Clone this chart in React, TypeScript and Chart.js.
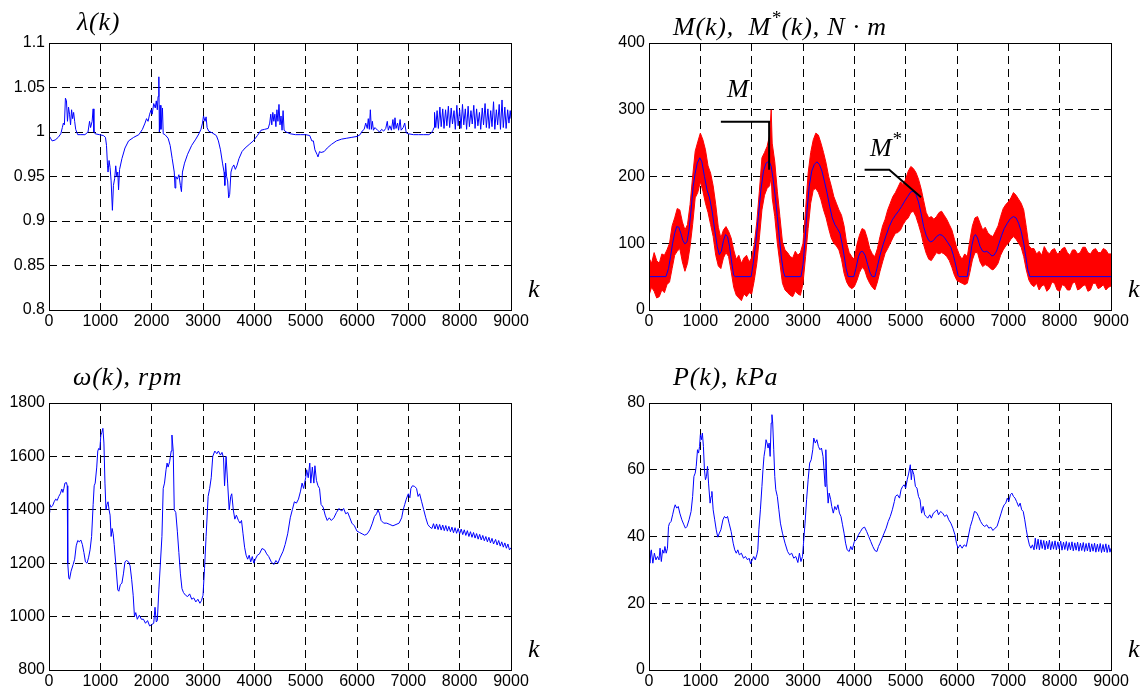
import React, { useEffect, useRef } from 'react';
import { Chart, registerables } from 'chart.js';
Chart.register(...registerables);

// ---------- axis ticks ----------
const kTicks = [0, 1000, 2000, 3000, 4000, 5000, 6000, 7000, 8000, 9000];
const kTickLabels = ['0', '1000', '2000', '3000', '4000', '5000', '6000', '7000', '8000', '9000'];
const lambdaTicks = [0.8, 0.85, 0.9, 0.95, 1, 1.05, 1.1];
const lambdaTickLabels = ['0.8', '0.85', '0.9', '0.95', '1', '1.05', '1.1'];
const momentTicks = [0, 100, 200, 300, 400];
const momentTickLabels = ['0', '100', '200', '300', '400'];
const omegaTicks = [800, 1000, 1200, 1400, 1600, 1800];
const omegaTickLabels = ['800', '1000', '1200', '1400', '1600', '1800'];
const pressureTicks = [0, 20, 40, 60, 80];
const pressureTickLabels = ['0', '20', '40', '60', '80'];

// ---------- λ(k) : [k, value] ----------
const lambdaSeries: [number, number][] = [
  [0, 0.996], [30, 0.993], [60, 0.99], [120, 0.991], [180, 0.994], [230, 0.998], [260, 1.005], [280, 1.01],
  [300, 1.008], [320, 1.038], [340, 1.035], [360, 1.012], [380, 1.028], [400, 1.02], [420, 1.008], [440, 1.025],
  [460, 1.015], [480, 1.022], [500, 1.012], [520, 1.003], [560, 0.997], [620, 0.997], [700, 0.997], [760, 1.0],
  [790, 1.012], [810, 1.005], [840, 1.012], [860, 1.026], [875, 1.0], [900, 0.998], [980, 0.997], [1060, 0.996],
  [1100, 0.994], [1120, 0.985], [1140, 0.962], [1150, 0.955], [1170, 0.968], [1190, 0.96], [1210, 0.945], [1235, 0.912],
  [1255, 0.94], [1280, 0.948], [1300, 0.962], [1320, 0.95], [1340, 0.955], [1355, 0.935], [1375, 0.958], [1420, 0.97],
  [1480, 0.982], [1550, 0.99], [1650, 0.994], [1750, 0.997], [1820, 1.003], [1870, 1.01], [1900, 1.015], [1930, 1.012],
  [1960, 1.02], [1990, 1.025], [2010, 1.02], [2040, 1.032], [2070, 1.027], [2090, 1.035], [2110, 1.025], [2125, 1.04],
  [2140, 1.062], [2150, 1.0], [2165, 1.03], [2180, 1.003], [2210, 1.027], [2225, 0.998], [2260, 0.997], [2320, 0.993],
  [2360, 0.985], [2400, 0.97], [2440, 0.955], [2455, 0.937], [2470, 0.95], [2500, 0.947], [2530, 0.952], [2560, 0.94],
  [2580, 0.933], [2600, 0.955], [2640, 0.965], [2700, 0.975], [2780, 0.985], [2860, 0.992], [2920, 0.998], [2960, 1.003],
  [2990, 1.01], [3010, 1.018], [3040, 1.012], [3060, 1.017], [3080, 1.005], [3110, 1.001], [3180, 0.999], [3260, 0.996],
  [3300, 0.99], [3340, 0.98], [3380, 0.965], [3410, 0.955], [3425, 0.94], [3440, 0.965], [3460, 0.95], [3480, 0.945],
  [3500, 0.926], [3520, 0.93], [3545, 0.955], [3570, 0.96], [3600, 0.963], [3630, 0.958], [3660, 0.962], [3700, 0.97],
  [3760, 0.978], [3820, 0.982], [3900, 0.986], [3980, 0.99], [4060, 0.996], [4130, 1.002], [4200, 1.003], [4270, 1.004],
  [4300, 1.01], [4320, 1.02], [4340, 1.008], [4360, 1.022], [4380, 1.012], [4400, 1.02], [4420, 1.006], [4440, 1.025],
  [4460, 1.012], [4480, 1.031], [4500, 1.008], [4520, 1.018], [4540, 1.002], [4560, 1.024], [4580, 1.002], [4620, 1.0],
  [4700, 0.998], [4800, 0.997], [4900, 0.997], [5000, 0.997], [5080, 0.996], [5120, 0.99], [5150, 0.99], [5180, 0.98],
  [5220, 0.975], [5240, 0.972], [5270, 0.978], [5300, 0.977], [5360, 0.978], [5420, 0.982], [5500, 0.986], [5600, 0.99],
  [5700, 0.992], [5800, 0.993], [5900, 0.994], [6000, 0.995], [6060, 0.997], [6100, 1.001], [6140, 1.003], [6170, 1.01],
  [6200, 1.004], [6220, 1.015], [6240, 1.003], [6260, 1.025], [6280, 1.003], [6300, 1.012], [6320, 1.002], [6350, 1.005],
  [6400, 1.002], [6440, 1.0], [6480, 1.003], [6520, 1.001], [6560, 1.004], [6590, 1.012], [6610, 1.002], [6640, 1.007],
  [6670, 1.002], [6700, 1.014], [6720, 1.003], [6740, 1.016], [6760, 1.004], [6790, 1.01], [6810, 1.002], [6840, 1.014],
  [6860, 1.002], [6900, 1.005], [6930, 1.01], [6960, 0.999], [7000, 0.998], [7100, 0.997], [7200, 0.997], [7300, 0.997],
  [7400, 0.997], [7450, 0.999], [7480, 1.002], [7500, 1.005], [7510, 1.022], [7535, 1.005], [7560, 1.024], [7585, 1.004],
  [7615, 1.028], [7640, 1.006], [7670, 1.026], [7695, 1.004], [7725, 1.025], [7750, 1.007], [7780, 1.029], [7805, 1.005],
  [7835, 1.027], [7860, 1.009], [7890, 1.024], [7915, 1.003], [7945, 1.03], [7970, 1.007], [8000, 1.025], [8025, 1.004],
  [8055, 1.031], [8080, 1.008], [8110, 1.026], [8135, 1.003], [8165, 1.029], [8190, 1.006], [8220, 1.024], [8245, 1.009],
  [8275, 1.03], [8300, 1.004], [8330, 1.026], [8355, 1.007], [8385, 1.022], [8410, 1.003], [8440, 1.027], [8465, 1.008],
  [8495, 1.032], [8520, 1.005], [8550, 1.026], [8575, 1.004], [8605, 1.024], [8630, 1.006], [8660, 1.034], [8685, 1.003],
  [8715, 1.025], [8740, 1.008], [8770, 1.031], [8795, 1.003], [8825, 1.036], [8850, 1.005], [8880, 1.028], [8905, 1.004],
  [8935, 1.025], [8960, 1.01], [8985, 1.024], [9000, 1.015],
];

// ---------- M*(k), smoothed torque : [k, value] ----------
const mStarSeries: [number, number][] = [
  [0, 50], [330, 50], [380, 62], [420, 80], [460, 100], [500, 115], [540, 125], [580, 124], [620, 115], [660, 104],
  [700, 99], [740, 102], [780, 120], [820, 150], [860, 185], [900, 205], [940, 220], [990, 228], [1030, 222], [1080, 200],
  [1130, 180], [1180, 168], [1230, 148], [1280, 120], [1330, 95], [1370, 83], [1410, 88], [1450, 104], [1490, 113], [1530, 110],
  [1570, 95], [1610, 72], [1650, 52], [1680, 50], [1990, 50], [2030, 70], [2080, 100], [2130, 140], [2180, 180], [2230, 208],
  [2280, 220], [2340, 223], [2380, 215], [2420, 195], [2460, 170], [2500, 140], [2540, 108], [2580, 78], [2620, 57], [2650, 50],
  [2960, 50], [3000, 68], [3040, 105], [3080, 150], [3120, 185], [3170, 208], [3220, 218], [3270, 222], [3320, 218], [3370, 208],
  [3420, 192], [3470, 175], [3520, 155], [3570, 138], [3620, 128], [3670, 122], [3720, 115], [3760, 100], [3800, 82], [3840, 62],
  [3880, 50], [3990, 50], [4030, 62], [4080, 80], [4120, 87], [4160, 88], [4210, 82], [4260, 68], [4310, 55], [4350, 50],
  [4400, 50], [4440, 62], [4500, 82], [4560, 98], [4620, 112], [4680, 125], [4740, 135], [4800, 142], [4860, 148], [4920, 155],
  [4980, 163], [5040, 170], [5100, 177], [5150, 178], [5200, 173], [5250, 162], [5300, 145], [5350, 125], [5400, 112], [5450, 104],
  [5490, 102], [5540, 104], [5600, 110], [5660, 113], [5710, 112], [5760, 108], [5820, 101], [5880, 94], [5930, 82], [5980, 66],
  [6020, 52], [6040, 50], [6200, 50], [6240, 70], [6290, 97], [6330, 110], [6360, 113], [6400, 108], [6450, 95], [6500, 88],
  [6540, 87], [6580, 88], [6630, 85], [6680, 81], [6720, 82], [6770, 88], [6820, 100], [6870, 112], [6920, 122], [6980, 130],
  [7040, 137], [7100, 140], [7150, 138], [7200, 130], [7250, 118], [7300, 100], [7340, 80], [7380, 60], [7420, 50], [9000, 50],
];

// ---------- M(k), measured torque band : [k, upper, lower] ----------
const mBand: [number, number, number][] = [
  [0, 78, 22], [50, 70, 34], [100, 86, 28], [150, 74, 18], [200, 70, 20], [250, 84, 30], [300, 82, 26], [350, 90, 38],
  [400, 100, 42], [450, 126, 62], [500, 138, 82], [550, 152, 88], [600, 150, 92], [650, 132, 72], [700, 120, 58],
  [750, 128, 70], [800, 158, 95], [850, 200, 128], [900, 238, 168], [950, 252, 176], [1000, 265, 192], [1050, 255, 178],
  [1100, 240, 160], [1150, 216, 146], [1200, 205, 128], [1250, 186, 110], [1300, 158, 82], [1350, 124, 66], [1400, 108, 62],
  [1450, 120, 78], [1500, 125, 86], [1550, 118, 80], [1600, 108, 58], [1650, 90, 34], [1700, 76, 22], [1750, 82, 18],
  [1800, 70, 14], [1850, 78, 24], [1900, 82, 20], [1950, 72, 26], [2000, 78, 24], [2050, 98, 44], [2100, 132, 70],
  [2150, 178, 108], [2200, 228, 150], [2250, 236, 172], [2300, 245, 182], [2350, 262, 186], [2380, 300, 200], [2400, 250, 168],
  [2450, 222, 140], [2500, 178, 100], [2550, 140, 70], [2600, 102, 40], [2650, 90, 30], [2700, 86, 26], [2750, 80, 22],
  [2800, 78, 20], [2850, 88, 28], [2900, 82, 24], [2950, 86, 22], [3000, 100, 40], [3050, 150, 80], [3100, 205, 122],
  [3150, 236, 160], [3200, 255, 180], [3250, 265, 182], [3300, 262, 176], [3350, 250, 165], [3400, 236, 150], [3450, 220, 138],
  [3500, 200, 122], [3550, 186, 108], [3600, 170, 100], [3650, 160, 96], [3700, 150, 90], [3750, 142, 76], [3800, 126, 55],
  [3850, 100, 42], [3900, 86, 35], [3950, 80, 32], [4000, 76, 35], [4050, 98, 44], [4100, 112, 56], [4150, 122, 64],
  [4200, 120, 60], [4250, 108, 48], [4300, 92, 40], [4350, 84, 34], [4400, 80, 30], [4450, 92, 42], [4500, 110, 58],
  [4550, 126, 72], [4600, 136, 85], [4650, 150, 92], [4700, 160, 100], [4750, 170, 108], [4800, 176, 115], [4850, 184, 116],
  [4900, 192, 120], [4950, 188, 128], [5000, 196, 134], [5050, 208, 138], [5100, 215, 146], [5150, 212, 148], [5200, 206, 140],
  [5250, 196, 128], [5300, 182, 115], [5350, 164, 98], [5400, 146, 85], [5450, 138, 76], [5500, 140, 74], [5550, 136, 80],
  [5600, 140, 86], [5650, 146, 84], [5700, 148, 86], [5750, 142, 84], [5800, 136, 80], [5850, 128, 74], [5900, 120, 64],
  [5950, 106, 52], [6000, 92, 44], [6050, 82, 42], [6100, 76, 40], [6150, 84, 38], [6200, 80, 40], [6250, 104, 56],
  [6300, 126, 75], [6350, 138, 86], [6400, 140, 86], [6450, 130, 72], [6500, 120, 65], [6550, 124, 68], [6600, 116, 66],
  [6650, 112, 62], [6700, 110, 60], [6750, 118, 64], [6800, 126, 70], [6850, 140, 82], [6900, 152, 90], [6950, 158, 96],
  [7000, 162, 100], [7050, 168, 106], [7100, 176, 110], [7150, 172, 106], [7200, 166, 100], [7250, 160, 94], [7300, 150, 80],
  [7350, 124, 60], [7400, 96, 45], [7450, 92, 38], [7500, 92, 35], [7550, 84, 40], [7600, 88, 30], [7650, 82, 36],
  [7700, 95, 38], [7750, 88, 28], [7800, 84, 32], [7850, 90, 42], [7900, 92, 40], [7950, 84, 30], [8000, 86, 28],
  [8050, 92, 38], [8100, 94, 36], [8150, 86, 30], [8200, 82, 30], [8250, 90, 40], [8300, 90, 42], [8350, 84, 30],
  [8400, 86, 32], [8450, 94, 36], [8500, 94, 38], [8550, 86, 28], [8600, 84, 30], [8650, 90, 40], [8700, 92, 40],
  [8750, 86, 32], [8800, 86, 34], [8850, 92, 38], [8900, 90, 30], [8950, 84, 34], [9000, 84, 36],
];

// annotation leader lines (data coordinates)
const mLeader: [number, number][] = [[1400, 282], [2340, 282], [2340, 210]];
const mStarLeader: [number, number][] = [[4200, 210], [4680, 210], [5300, 169]];

// ---------- ω(k), rpm : [k, value] ----------
const omegaSeries: [number, number][] = [
  [0, 1390], [15, 1420], [40, 1410], [70, 1415], [100, 1430], [130, 1440], [160, 1435], [190, 1450], [220, 1460], [250, 1478],
  [270, 1465], [290, 1480], [310, 1500], [340, 1502], [355, 1490], [365, 1200], [385, 1145], [400, 1140], [430, 1170], [470, 1195],
  [500, 1215], [530, 1265], [560, 1285], [590, 1280], [620, 1287], [650, 1270], [680, 1240], [710, 1205], [740, 1200], [770, 1220],
  [800, 1250], [830, 1300], [860, 1420], [880, 1490], [900, 1500], [930, 1560], [950, 1620], [970, 1630], [990, 1625], [1010, 1680],
  [1030, 1690], [1050, 1705], [1070, 1650], [1090, 1500], [1110, 1400], [1130, 1420], [1150, 1430], [1170, 1400], [1190, 1380],
  [1210, 1300], [1230, 1330], [1250, 1310], [1270, 1270], [1300, 1200], [1340, 1100], [1360, 1095], [1390, 1120], [1420, 1125],
  [1450, 1160], [1480, 1205], [1510, 1210], [1550, 1205], [1580, 1190], [1610, 1140], [1640, 1080], [1665, 1000], [1690, 1015],
  [1720, 990], [1760, 1005], [1800, 990], [1840, 990], [1880, 975], [1920, 985], [1960, 965], [2000, 970], [2040, 975],
  [2065, 1035], [2090, 980], [2110, 985], [2140, 1100], [2170, 1200], [2200, 1300], [2225, 1480], [2250, 1500], [2280, 1550],
  [2300, 1575], [2320, 1560], [2350, 1580], [2380, 1620], [2395, 1680], [2420, 1620], [2440, 1400], [2470, 1390], [2500, 1320],
  [2530, 1240], [2560, 1160], [2590, 1105], [2620, 1090], [2660, 1080], [2700, 1075], [2740, 1085], [2780, 1065], [2820, 1070],
  [2860, 1055], [2900, 1065], [2940, 1050], [2970, 1060], [3000, 1080], [3030, 1180], [3060, 1300], [3100, 1450], [3130, 1480],
  [3160, 1520], [3190, 1600], [3230, 1620], [3270, 1610], [3300, 1620], [3340, 1605], [3370, 1615], [3400, 1595], [3420, 1490],
  [3450, 1600], [3480, 1500], [3510, 1400], [3540, 1450], [3560, 1460], [3590, 1400], [3620, 1365], [3650, 1380], [3690, 1360],
  [3720, 1350], [3750, 1360], [3780, 1310], [3810, 1260], [3840, 1230], [3870, 1215], [3900, 1230], [3930, 1205], [3960, 1225],
  [3990, 1200], [4020, 1215], [4060, 1230], [4100, 1235], [4150, 1255], [4200, 1250], [4240, 1235], [4280, 1225], [4330, 1205],
  [4380, 1195], [4420, 1210], [4460, 1200], [4500, 1220], [4560, 1245], [4600, 1270], [4650, 1310], [4700, 1370], [4740, 1400],
  [4780, 1430], [4820, 1425], [4860, 1440], [4900, 1470], [4930, 1500], [4960, 1480], [5000, 1520], [5020, 1550], [5050, 1520],
  [5080, 1575], [5100, 1500], [5130, 1560], [5160, 1500], [5180, 1565], [5210, 1510], [5240, 1490], [5270, 1480], [5300, 1420],
  [5340, 1410], [5380, 1380], [5420, 1360], [5460, 1370], [5500, 1360], [5550, 1370], [5600, 1390], [5650, 1405], [5700, 1395],
  [5740, 1405], [5780, 1385], [5820, 1390], [5860, 1370], [5900, 1350], [5950, 1340], [6000, 1320], [6050, 1315], [6100, 1310],
  [6150, 1305], [6200, 1310], [6250, 1325], [6300, 1350], [6340, 1375], [6380, 1385], [6410, 1400], [6440, 1385], [6470, 1360],
  [6520, 1350], [6580, 1350], [6640, 1345], [6700, 1340], [6760, 1345], [6820, 1350], [6870, 1370], [6900, 1400], [6930, 1420],
  [6960, 1440], [7000, 1460], [7030, 1445], [7050, 1480], [7080, 1490], [7120, 1488], [7160, 1480], [7190, 1450], [7220, 1460],
  [7260, 1430], [7300, 1400], [7340, 1370], [7380, 1345], [7420, 1335], [7460, 1330], [7490, 1348], [7520, 1328], [7550, 1347],
  [7580, 1326], [7610, 1345], [7640, 1324], [7670, 1343], [7700, 1322], [7730, 1341], [7760, 1320], [7790, 1338], [7820, 1318],
  [7850, 1335], [7880, 1314], [7910, 1333], [7940, 1312], [7970, 1330], [8000, 1310], [8030, 1328], [8060, 1307], [8090, 1325],
  [8120, 1304], [8150, 1322], [8180, 1300], [8210, 1318], [8240, 1297], [8270, 1315], [8300, 1294], [8330, 1311], [8360, 1290],
  [8390, 1308], [8420, 1287], [8450, 1304], [8480, 1284], [8510, 1300], [8540, 1280], [8570, 1297], [8600, 1276], [8630, 1293],
  [8660, 1272], [8700, 1289], [8730, 1268], [8760, 1285], [8790, 1264], [8820, 1280], [8850, 1260], [8880, 1276], [8910, 1256],
  [8940, 1272], [8970, 1250], [9000, 1258],
];

// ---------- P(k), kPa : [k, value] ----------
const pressureSeries: [number, number][] = [
  [0, 35.6], [15, 32], [45, 36], [75, 32], [105, 35], [135, 33], [165, 34], [195, 33], [215, 36.5], [240, 32.5], [265, 36],
  [290, 35], [310, 37], [335, 35], [360, 36.5], [380, 43], [400, 44], [430, 44.5], [460, 46.5], [490, 48.5], [510, 49.5],
  [540, 48.5], [570, 49], [600, 47], [640, 45], [680, 43.5], [710, 42.5], [740, 43], [780, 45], [820, 47.5], [850, 52],
  [875, 58], [900, 59], [920, 61], [945, 66], [965, 65], [985, 67], [1000, 70.5], [1020, 69], [1040, 71], [1060, 67],
  [1080, 60], [1100, 57], [1120, 58], [1140, 61], [1160, 56], [1190, 50], [1210, 52], [1225, 53.5], [1250, 48], [1280, 45],
  [1310, 42], [1340, 39.8], [1370, 41], [1400, 42], [1440, 45], [1470, 46], [1500, 45.5], [1530, 46], [1560, 44], [1600, 41.5],
  [1640, 38], [1670, 36], [1700, 35], [1730, 36], [1760, 34.5], [1800, 35], [1840, 33.5], [1880, 34], [1920, 33], [1950, 33.5],
  [1980, 31.8], [2010, 33], [2040, 34], [2070, 33], [2100, 34.5], [2120, 36], [2140, 42], [2170, 48], [2200, 55], [2220, 60],
  [2240, 64], [2260, 66], [2280, 69], [2300, 68], [2320, 66.5], [2340, 68], [2360, 64], [2380, 74], [2395, 76.5], [2410, 74],
  [2430, 66], [2450, 58], [2470, 54], [2500, 52], [2530, 48], [2560, 44], [2600, 41], [2650, 38], [2700, 35.5], [2740, 34.5],
  [2780, 35], [2820, 33.5], [2860, 34], [2900, 32.2], [2930, 35], [2960, 32.5], [2990, 34], [3010, 38], [3040, 44], [3070, 51],
  [3100, 57], [3130, 62], [3160, 63], [3190, 66], [3210, 69.5], [3240, 68], [3270, 69], [3300, 67], [3330, 66], [3360, 66.5],
  [3390, 64], [3410, 60], [3430, 55], [3445, 66], [3465, 56], [3490, 50], [3510, 53], [3540, 51], [3560, 49], [3590, 47],
  [3620, 49], [3650, 48], [3680, 49.5], [3710, 47], [3740, 46], [3770, 43.5], [3800, 41], [3830, 38], [3860, 36], [3900, 35.5],
  [3930, 37], [3960, 36], [4000, 38.5], [4040, 39], [4080, 40.5], [4120, 41.5], [4160, 42.5], [4200, 42.8], [4240, 41.5],
  [4280, 40], [4320, 38.5], [4360, 37], [4400, 35.8], [4440, 35.5], [4470, 37], [4500, 38], [4540, 39.5], [4580, 41],
  [4620, 42.5], [4660, 44.5], [4700, 46], [4740, 48], [4780, 50.5], [4800, 52], [4840, 52.5], [4880, 51.5], [4910, 54],
  [4940, 55], [4970, 55.5], [5000, 54.5], [5030, 57], [5060, 59], [5090, 61.5], [5110, 57], [5130, 60], [5160, 58.5],
  [5190, 55], [5220, 54.5], [5250, 52], [5280, 51], [5310, 47], [5340, 49], [5370, 46.5], [5400, 46], [5430, 45.5],
  [5470, 46.5], [5500, 45.5], [5540, 47], [5580, 47.5], [5610, 48], [5640, 46.5], [5680, 47.5], [5720, 47], [5760, 46],
  [5800, 46.5], [5840, 45], [5880, 44], [5920, 42.5], [5960, 40.5], [5990, 38], [6020, 36.5], [6060, 37.5], [6100, 36.5],
  [6140, 37.5], [6180, 37], [6220, 40], [6260, 43], [6300, 45], [6340, 47.5], [6380, 47.2], [6420, 46], [6460, 44.5],
  [6500, 43.5], [6540, 43], [6580, 43.5], [6620, 42.5], [6660, 42.8], [6700, 41.8], [6740, 42.5], [6780, 43], [6820, 45],
  [6860, 47], [6890, 48.5], [6920, 49.5], [6950, 50], [6980, 51.5], [7010, 50.5], [7040, 52.5], [7070, 53], [7100, 52],
  [7130, 51.5], [7160, 50.5], [7200, 49], [7230, 50], [7260, 48], [7290, 47.5], [7320, 45], [7350, 42], [7380, 39.5],
  [7410, 37.5], [7440, 36.5], [7470, 37.5], [7500, 36], [7525, 39.5], [7550, 36.2], [7580, 39.2], [7605, 36], [7635, 39],
  [7660, 36.4], [7690, 38.8], [7715, 36], [7745, 38.6], [7770, 36.3], [7800, 38.9], [7825, 36], [7855, 38.5], [7880, 36.2],
  [7910, 38.7], [7935, 36], [7965, 38.4], [7990, 36.3], [8020, 38.6], [8045, 35.9], [8075, 38.3], [8100, 36.1], [8130, 38.5],
  [8155, 35.8], [8185, 38.2], [8210, 36], [8240, 38.4], [8265, 35.7], [8295, 38.1], [8320, 35.9], [8350, 38.3], [8375, 35.6],
  [8405, 38], [8430, 35.8], [8460, 38.2], [8485, 35.5], [8515, 37.9], [8540, 35.7], [8570, 38.1], [8595, 35.4], [8625, 37.8],
  [8650, 35.6], [8680, 38], [8705, 35.3], [8735, 37.7], [8760, 35.5], [8790, 37.9], [8815, 35.2], [8845, 37.6], [8870, 35.4],
  [8900, 37.8], [8925, 35.2], [8955, 37.5], [8980, 35.3], [9000, 36.5],
];

const BLUE = '#0000ff';
const RED = '#ff0000';
const TICK_FONT = { family: '"Liberation Sans", Arial, sans-serif', size: 16 };
const GRID_DASH = [8, 5];

const toXY = (s: [number, number][]) => s.map(([x, y]) => ({ x, y }));

const boxPlugin = {
  id: 'box',
  afterDraw(chart: any) {
    const { ctx, chartArea } = chart;
    ctx.save();
    ctx.strokeStyle = '#000';
    ctx.lineWidth = 1;
    ctx.setLineDash([]);
    ctx.strokeRect(
      Math.round(chartArea.left) + 0.5,
      Math.round(chartArea.top) + 0.5,
      Math.round(chartArea.right) - Math.round(chartArea.left),
      Math.round(chartArea.bottom) - Math.round(chartArea.top)
    );
    ctx.restore();
  },
};

type PanelProps = {
  left: number;
  top: number;
  width: number;
  height: number;
  yAxisW: number;
  padTop: number;
  padRight: number;
  xAxisH: number;
  yMin: number;
  yMax: number;
  yTicks: number[];
  yTickLabels: string[];
  datasets: any[];
};

function Panel(p: PanelProps) {
  const ref = useRef<HTMLCanvasElement>(null);
  useEffect(() => {
    const canvas = ref.current;
    if (!canvas) return;
    const chart = new Chart(canvas, {
      type: 'line',
      data: { datasets: p.datasets },
      options: {
        responsive: false,
        animation: false,
        devicePixelRatio: 1,
        events: [],
        layout: { padding: { left: 0, top: p.padTop, right: p.padRight, bottom: 0 } },
        plugins: { legend: { display: false }, tooltip: { enabled: false }, title: { display: false } },
        elements: { point: { radius: 0 }, line: { tension: 0 } },
        scales: {
          x: {
            type: 'linear',
            min: 0,
            max: 9000,
            afterBuildTicks: (axis: any) => {
              axis.ticks = kTicks.map((v) => ({ value: v }));
            },
            afterFit: (axis: any) => {
              axis.height = p.xAxisH;
            },
            ticks: {
              callback: (_v: any, i: number) => kTickLabels[i],
              font: TICK_FONT,
              color: '#000',
              padding: 2,
              maxRotation: 0,
              autoSkip: false,
            },
            grid: { color: '#000', lineWidth: 1, drawTicks: false, borderDash: GRID_DASH },
            border: { display: false, dash: GRID_DASH },
          },
          y: {
            type: 'linear',
            min: p.yMin,
            max: p.yMax,
            afterBuildTicks: (axis: any) => {
              axis.ticks = p.yTicks.map((v) => ({ value: v }));
            },
            afterFit: (axis: any) => {
              axis.width = p.yAxisW;
            },
            ticks: {
              callback: (_v: any, i: number) => p.yTickLabels[i],
              font: TICK_FONT,
              color: '#000',
              padding: 4,
              autoSkip: false,
            },
            grid: { color: '#000', lineWidth: 1, drawTicks: false, borderDash: GRID_DASH },
            border: { display: false, dash: GRID_DASH },
          },
        },
      } as any,
      plugins: [boxPlugin],
    });
    return () => chart.destroy();
  }, []);
  return (
    <canvas
      ref={ref}
      width={p.width}
      height={p.height}
      style={{ position: 'absolute', left: p.left, top: p.top, width: p.width, height: p.height }}
    />
  );
}

const serif: React.CSSProperties = {
  position: 'absolute',
  fontFamily: '"Liberation Serif", "Times New Roman", serif',
  fontStyle: 'italic',
  fontSize: 26,
  lineHeight: 1,
  whiteSpace: 'pre',
  color: '#000',
};
const title: React.CSSProperties = { ...serif, letterSpacing: 0.8 };

const lineDs = (s: [number, number][], color: string, width = 1) => ({
  data: toXY(s),
  borderColor: color,
  borderWidth: width,
  pointRadius: 0,
  fill: false,
  tension: 0,
});

export default function App() {
  const momentDatasets = [
    lineDs(mLeader, '#000', 2),
    lineDs(mStarLeader, '#000', 2),
    lineDs(mStarSeries, BLUE, 1),
    {
      data: mBand.map(([x, hi]) => ({ x, y: hi })),
      borderColor: RED,
      borderWidth: 1,
      pointRadius: 0,
      tension: 0,
      fill: '+1',
      backgroundColor: RED,
    },
    {
      data: mBand.map(([x, , lo]) => ({ x, y: lo })),
      borderColor: RED,
      borderWidth: 1,
      pointRadius: 0,
      tension: 0,
      fill: false,
    },
  ];

  return (
    <div style={{ position: 'fixed', left: 0, top: 0, width: 1143, height: 694, background: '#fff', overflow: 'hidden' }}>
      <Panel
        left={0} top={0} width={560} height={340}
        yAxisW={49} padTop={43} padRight={49} xAxisH={30}
        yMin={0.8} yMax={1.1} yTicks={lambdaTicks} yTickLabels={lambdaTickLabels}
        datasets={[lineDs(lambdaSeries, BLUE, 1)]}
      />
      <Panel
        left={580} top={0} width={563} height={340}
        yAxisW={69} padTop={43} padRight={32} xAxisH={30}
        yMin={0} yMax={400} yTicks={momentTicks} yTickLabels={momentTickLabels}
        datasets={momentDatasets}
      />
      <Panel
        left={0} top={360} width={560} height={334}
        yAxisW={49} padTop={43} padRight={49} xAxisH={24}
        yMin={800} yMax={1800} yTicks={omegaTicks} yTickLabels={omegaTickLabels}
        datasets={[lineDs(omegaSeries, BLUE, 1)]}
      />
      <Panel
        left={580} top={360} width={563} height={334}
        yAxisW={69} padTop={43} padRight={32} xAxisH={24}
        yMin={0} yMax={80} yTicks={pressureTicks} yTickLabels={pressureTickLabels}
        datasets={[lineDs(pressureSeries, BLUE, 1)]}
      />

      <span style={{ ...title, left: 77, top: 9 }}>λ(k)</span>
      <span style={{ ...title, left: 673, top: 14 }}>
        M(k),  M<span style={{ position: 'relative', top: -11, fontSize: 19 }}>*</span>(k), N · m
      </span>
      <span style={{ ...title, left: 73, top: 364 }}>ω(k), rpm</span>
      <span style={{ ...title, left: 673, top: 364 }}>P(k), kPa</span>

      <span style={{ ...serif, left: 528, top: 276 }}>k</span>
      <span style={{ ...serif, left: 1128, top: 276 }}>k</span>
      <span style={{ ...serif, left: 528, top: 636 }}>k</span>
      <span style={{ ...serif, left: 1128, top: 636 }}>k</span>

      <span style={{ ...serif, left: 727, top: 76 }}>M</span>
      <span style={{ ...serif, left: 870, top: 135 }}>
        M<span style={{ position: 'relative', top: -11, fontSize: 19 }}>*</span>
      </span>
    </div>
  );
}
